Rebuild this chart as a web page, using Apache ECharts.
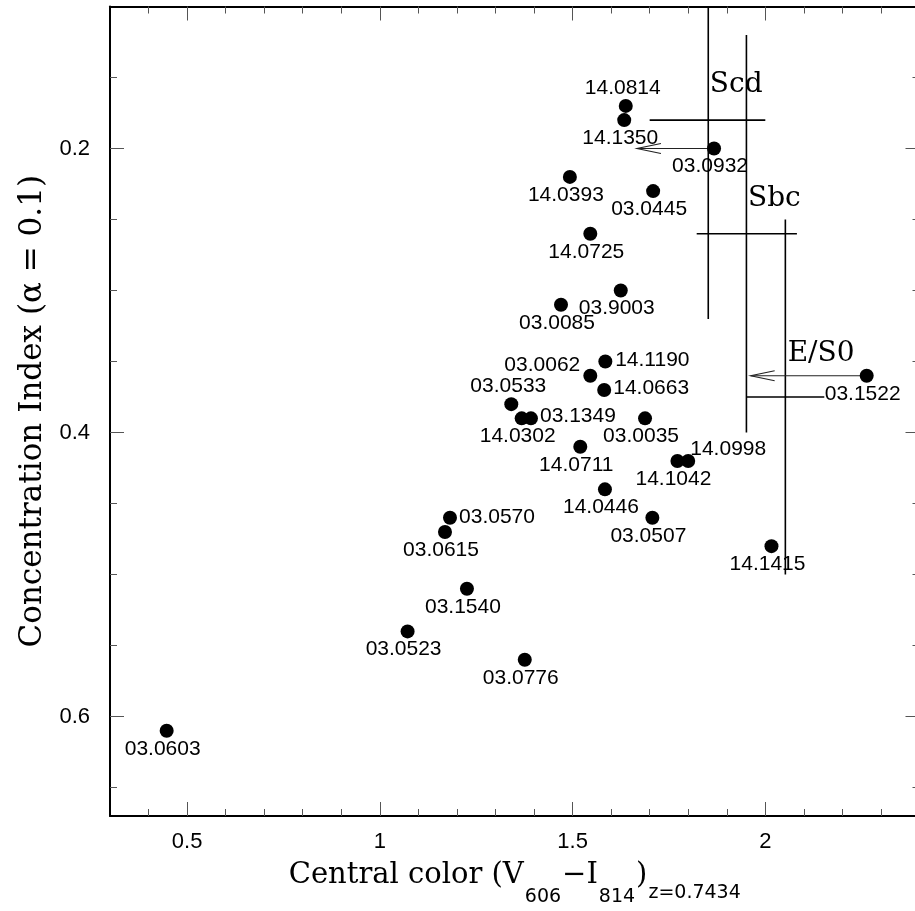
<!DOCTYPE html>
<html>
<head>
<meta charset="utf-8">
<title>Concentration index vs central color</title>
<script src="https://cdn.jsdelivr.net/npm/echarts@6/dist/echarts.min.js"></script>
<style>
  html, body { margin: 0; padding: 0; background: #fff; }
  #chart { width: 915px; height: 911px; }
</style>
</head>
<body>
<div id="chart"></div>
<script>
// galaxies: id, central colour (V606-I814) and concentration index
var galaxyIds = ['14.0814', '14.1350', '03.0932', '14.0393', '03.0445', '14.0725', '03.9003',
  '03.0085', '14.1190', '03.0062', '14.0663', '03.0533', '14.0302', '03.1349', '03.0035',
  '14.0711', '14.0998', '14.1042', '14.0446', '03.0507', '03.0570', '03.0615', '14.1415',
  '03.1540', '03.0523', '03.0776', '03.0603', '03.1522'];
var centralColor = [1.638, 1.634, 1.867, 1.493, 1.709, 1.546, 1.625,
  1.470, 1.585, 1.546, 1.582, 1.341, 1.368, 1.392, 1.688,
  1.520, 1.800, 1.772, 1.584, 1.707, 1.182, 1.169, 2.016,
  1.226, 1.072, 1.376, 0.447, 2.263];
var concIndex = [0.170, 0.180, 0.200, 0.220, 0.230, 0.260, 0.300,
  0.310, 0.350, 0.360, 0.370, 0.380, 0.390, 0.390, 0.390,
  0.410, 0.420, 0.420, 0.440, 0.460, 0.460, 0.470, 0.480,
  0.510, 0.540, 0.560, 0.610, 0.360];

// morphological class boundaries [x1, y1, x2, y2]
var boundarySegments = [
  [1.852, 0.100, 1.852, 0.320],
  [1.700, 0.180, 2.000, 0.180],
  [1.951, 0.120, 1.951, 0.400],
  [1.822, 0.260, 2.082, 0.260],
  [2.052, 0.250, 2.052, 0.500],
  [1.951, 0.375, 2.153, 0.375]
];
// arrows [fromX, fromY, toX, toY]
var arrowSegments = [
  [1.867, 0.200, 1.667, 0.200],
  [2.263, 0.360, 1.962, 0.360]
];
var classNames = ['Scd', 'Sbc', 'E/S0'];
var classX = [1.856, 1.955, 2.058];
var classY = [0.155, 0.235, 0.3445];

var xMajorTicks = [0.5, 1, 1.5, 2];
var xMinorTicks = [0.4, 0.6, 0.7, 0.8, 0.9, 1.1, 1.2, 1.3, 1.4, 1.6, 1.7, 1.8, 1.9, 2.1, 2.2, 2.3];
var yMajorTicks = [0.2, 0.4, 0.6];
var yMinorTicks = [0.15, 0.25, 0.3, 0.35, 0.45, 0.5, 0.55, 0.65];

// where each id label sits relative to its dot (px)
var labelOffset = {
  '14.0814': [-3, -18], '03.0533': [-3, -18],
  '14.1190': [47, -1], '14.0663': [47, -2], '03.1349': [47, -2], '03.0570': [47, -1],
  '03.0062': [-48, -11], '14.0998': [40, -12]
};

var sansFont = 'Liberation Sans';
var serifFont = 'DejaVu Serif';

function makeAxis(dim, pos, ticks, len, opts) {
  var ax = {
    type: 'value',
    position: pos,
    min: dim === 'x' ? 0.3 : 0.1,
    max: dim === 'x' ? 2.4 : 0.67,
    inverse: dim === 'y',
    splitLine: { show: false },
    axisLine: { show: !!opts.line, onZero: false, lineStyle: { color: '#000', width: 2 } },
    axisTick: { show: true, inside: true, length: len, customValues: ticks,
      lineStyle: { color: '#555', width: 1 } },
    axisLabel: { show: false }
  };
  if (opts.labels) {
    ax.axisLabel = { show: true, customValues: ticks, color: '#000',
      fontFamily: sansFont, fontSize: 22, margin: dim === 'x' ? 15 : 20 };
  }
  return ax;
}

var xAxes = [
  makeAxis('x', 'bottom', xMajorTicks, 14, { line: true, labels: true }),
  makeAxis('x', 'bottom', xMinorTicks, 7, {}),
  makeAxis('x', 'top', xMajorTicks, 14, { line: true }),
  makeAxis('x', 'top', xMinorTicks, 7, {})
];
xAxes[0].name = '{m|Central color (V}{s|606}{m|\u2212I}{s|814}{m|)}{z|z=0.7434}';
xAxes[0].nameLocation = 'middle';
xAxes[0].nameGap = 45;
xAxes[0].nameTextStyle = {
  color: '#000',
  rich: {
    m: { fontFamily: serifFont, fontSize: 29, lineHeight: 29, verticalAlign: 'top', color: '#000' },
    s: { fontFamily: 'DejaVu Sans', fontSize: 19, lineHeight: 19, padding: [27, 1, 0, 1], verticalAlign: 'top', color: '#000' },
    z: { fontFamily: 'DejaVu Sans', fontSize: 19, lineHeight: 19, padding: [23, 0, 0, 1], verticalAlign: 'top', color: '#000' }
  }
};

var yAxes = [
  makeAxis('y', 'left', yMajorTicks, 14, { line: true, labels: true }),
  makeAxis('y', 'left', yMinorTicks, 7, {}),
  makeAxis('y', 'right', yMajorTicks, 14, { line: true }),
  makeAxis('y', 'right', yMinorTicks, 7, {})
];
yAxes[0].name = 'Concentration Index (\u03b1 = 0.1)';
yAxes[0].nameLocation = 'middle';
yAxes[0].nameGap = 60;
yAxes[0].nameTextStyle = { color: '#000', fontFamily: serifFont, fontSize: 31 };

var points = galaxyIds.map(function (id, i) {
  return {
    name: id,
    value: [centralColor[i], concIndex[i]],
    label: { offset: labelOffset[id] || [-4, 18] }
  };
});

function segmentItem(color, width, head) {
  return function (params, api) {
    var a = api.coord([api.value(0), api.value(1)]);
    var b = api.coord([api.value(2), api.value(3)]);
    var kids = [{ type: 'line', shape: { x1: a[0], y1: a[1], x2: b[0], y2: b[1] },
      style: { stroke: color, lineWidth: width } }];
    if (head) {
      kids.push({ type: 'polyline',
        shape: { points: [[b[0] + 24, b[1] - 5], [b[0], b[1]], [b[0] + 24, b[1] + 5]] },
        style: { stroke: color, lineWidth: width, fill: null } });
    }
    return { type: 'group', children: kids };
  };
}

var chart = echarts.init(document.getElementById('chart'), null, { renderer: 'canvas' });
chart.setOption({
  backgroundColor: '#fff',
  animation: false,
  grid: { left: 110, top: 6.5, right: -4.5, bottom: 95, containLabel: false, outerBoundsMode: 'none' },
  xAxis: xAxes,
  yAxis: yAxes,
  series: [
    {
      type: 'custom',
      silent: true,
      data: boundarySegments,
      encode: { x: [0, 2], y: [1, 3] },
      renderItem: segmentItem('#000', 1.6, false)
    },
    {
      type: 'custom',
      silent: true,
      data: arrowSegments,
      encode: { x: [0, 2], y: [1, 3] },
      renderItem: segmentItem('#222', 1.1, true)
    },
    {
      type: 'custom',
      silent: true,
      data: classNames.map(function (n, i) { return [classX[i], classY[i]]; }),
      renderItem: function (params, api) {
        var p = api.coord([api.value(0), api.value(1)]);
        return { type: 'text', x: p[0], y: p[1],
          style: { text: classNames[params.dataIndex], fontFamily: serifFont, fontSize: 28,
            fill: '#000', align: 'left', verticalAlign: 'middle' } };
      }
    },
    {
      type: 'scatter',
      symbol: 'circle',
      symbolSize: 14,
      itemStyle: { color: '#000', opacity: 1 },
      data: points,
      label: {
        show: true,
        position: 'inside',
        formatter: '{b}',
        color: '#000',
        opacity: 1,
        fontFamily: sansFont,
        fontSize: 21
      },
      z: 5
    }
  ]
});
</script>
</body>
</html>
